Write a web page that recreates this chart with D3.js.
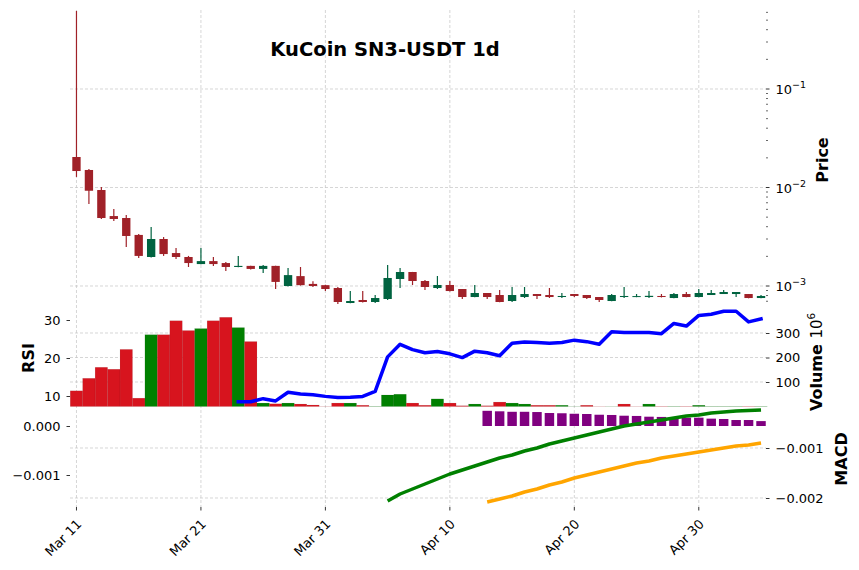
<!DOCTYPE html>
<html>
<head>
<meta charset="utf-8">
<script src="https://cdn.jsdelivr.net/npm/d3@7"></script>
<style>
body { margin: 0; background: #fff; }
text { font-family: "DejaVu Sans", sans-serif; fill: #000; }
</style>
</head>
<body>
<svg width="859" height="570"></svg>
<script>
const title = "KuCoin SN3-USDT 1d";
const firstDay = "2025-03-11";
const dateTicks = ["Mar 11", "Mar 21", "Mar 31", "Apr 10", "Apr 20", "Apr 30"];

const open = [0.0204, 0.01506, 0.00943, 0.00513, 0.0049, 0.0033, 0.00197, 0.003, 0.00216, 0.00197,
    0.00167, 0.00179, 0.00171, 0.00156, 0.0016, 0.00149, 0.0016, 0.001, 0.00126, 0.00105,
    0.00102, 0.000954, 0.000672, 0.000721, 0.000688, 0.000738, 0.001178, 0.001387, 0.001124, 0.000954,
    0.001024, 0.000932, 0.000773, 0.000849, 0.00081, 0.000704, 0.000773, 0.000829, 0.00081, 0.000773,
    0.000829, 0.00081, 0.000773, 0.000704, 0.000773, 0.000773, 0.000773, 0.000792, 0.000755, 0.000829,
    0.000773, 0.00081, 0.000829, 0.000829, 0.000829, 0.000755];
const high = [0.62, 0.0154, 0.0101, 0.00605, 0.00526, 0.00337, 0.00397, 0.00314, 0.00243, 0.00202,
    0.00243, 0.00197, 0.00175, 0.00202, 0.00161, 0.001634, 0.00161, 0.00152, 0.00156, 0.00112,
    0.00103, 0.000977, 0.000889, 0.000889, 0.00081, 0.001634, 0.001523, 0.00139, 0.001151, 0.001263,
    0.001124, 0.000935, 0.001024, 0.00085, 0.000911, 0.000977, 0.000977, 0.00083, 0.000954, 0.000849,
    0.00083, 0.00081, 0.000775, 0.000829, 0.000977, 0.000829, 0.000889, 0.000829, 0.000849, 0.000869,
    0.000932, 0.000911, 0.000911, 0.00087, 0.00083, 0.00081];
const low = [0.0128, 0.0068, 0.00479, 0.00457, 0.00249, 0.00192, 0.00195, 0.00202, 0.00188, 0.00156,
    0.00166, 0.0016, 0.00142, 0.00155, 0.00147, 0.001355, 0.000932, 0.00099, 0.00101, 0.000977,
    0.000889, 0.000656, 0.00067, 0.00068, 0.000672, 0.000721, 0.000954, 0.001024, 0.000911, 0.000932,
    0.00088, 0.000738, 0.00077, 0.000738, 0.000685, 0.000688, 0.000755, 0.000738, 0.000755, 0.000755,
    0.000773, 0.000738, 0.000688, 0.0007, 0.000755, 0.00077, 0.000755, 0.000765, 0.00075, 0.00077,
    0.00077, 0.00081, 0.000829, 0.000773, 0.00075, 0.00075];
const close = [0.0147, 0.00927, 0.0049, 0.00479, 0.00322, 0.00202, 0.003, 0.00211, 0.00197, 0.00171,
    0.00179, 0.00167, 0.00156, 0.0016, 0.00149, 0.0016, 0.0011, 0.00129, 0.00102, 0.001,
    0.000932, 0.000688, 0.000704, 0.000688, 0.000755, 0.001206, 0.001387, 0.001124, 0.000977, 0.001024,
    0.000889, 0.000773, 0.000849, 0.000773, 0.000688, 0.00081, 0.000829, 0.000792, 0.000773, 0.000792,
    0.000792, 0.000755, 0.000721, 0.00081, 0.000792, 0.00079, 0.000795, 0.000773, 0.000829, 0.000773,
    0.000849, 0.000849, 0.000869, 0.000869, 0.000755, 0.000792];

// volume in millions
const volume = [64, 115, 160, 152, 233, 34, 293, 293, 350, 310,
    318, 350, 364, 322, 265, 14, 11, 14, 10, 6,
    0.5, 14, 14, 5, 1, 47, 50, 14, 5, 31,
    14, 3, 10, 3, 18, 14, 10, 5, 5, 5,
    0.5, 5, 0.5, 0.5, 10, 0.5, 10, 1, 1, 1,
    5, 1, 1, 1, 1, 1];

const rsiStart = 13;
const rsi = [8.5, 8.5, 9.3, 8.7, 11.0, 10.5, 10.3, 9.9, 9.6, 9.7,
    9.9, 11.2, 20.3, 23.6, 22.2, 21.4, 21.7, 21.1, 20.1, 21.8,
    21.4, 20.6, 23.9, 24.2, 24.1, 23.9, 24.1, 24.7, 24.3, 23.6,
    26.9, 26.7, 26.7, 26.7, 26.4, 29.1, 28.4, 31.2, 31.5, 32.3,
    32.3, 29.5, 30.3];

const macdStart = 25;
const macd = [-0.00206, -0.00192, -0.00182, -0.00172, -0.00162, -0.00152, -0.00144, -0.00136, -0.00128, -0.0012,
    -0.00114, -0.00106, -0.001, -0.00092, -0.00086, -0.0008, -0.00074, -0.00068, -0.00062, -0.00056,
    -0.00052, -0.00048, -0.00044, -0.0004, -0.00036, -0.00034, -0.0003, -0.00028, -0.00026, -0.00025,
    -0.00024];

const signalStart = 33;
const signal = [-0.00208, -0.00202, -0.00196, -0.00188, -0.00182, -0.00174, -0.00168, -0.0016, -0.00154, -0.00148,
    -0.00142, -0.00136, -0.0013, -0.00126, -0.0012, -0.00116, -0.00112, -0.00108, -0.00104, -0.001,
    -0.00096, -0.00094, -0.0009];
const hist = [0.00031, 0.0003, 0.00029, 0.00029, 0.000285, 0.000265, 0.00026, 0.00025, 0.000245, 0.00023,
    0.000225, 0.00021, 0.000205, 0.00019, 0.000185, 0.000178, 0.00017, 0.00017, 0.00015, 0.000143,
    0.000122, 0.000122, 0.0001];

const upColor = "#006340", downColor = "#a02128";
const volUp = "#008000", volDown = "#d7141e";
const gridColor = "#c4c4c4";

const svg = d3.select("svg");
const left = 70, right = 766;
const priceTop = 10, priceBottom = 307, volBottom = 406.5, macdBottom = 507;

const t0 = d3.utcParse("%Y-%m-%d")(firstDay);
const dates = d3.utcDay.range(t0, d3.utcDay.offset(t0, close.length));
const fmt = d3.utcFormat("%b %d");
const tickIdx = dateTicks.map(s => dates.findIndex(d => fmt(d).replace(" 0", " ") === s));

const x = d3.scaleLinear().domain([-0.52, 55.4]).range([left, right]);
const step = x(1) - x(0);

const yPrice = d3.scaleLog().domain([1e-3, 1e-1]).range([286, 89]);
const yVol = d3.scaleLinear().domain([0, 300]).range([volBottom, 333]);
const yRsi = d3.scaleLinear().domain([10, 30]).range([396, 320]);
const yHist = d3.scaleLinear().domain([0, -0.001]).range([426, 475]);
const yMacd = d3.scaleLinear().domain([-0.001, -0.002]).range([448, 498]);

function hgrid(vals, scale) {
    svg.append("g").selectAll("line").data(vals).join("line")
        .attr("x1", left).attr("x2", right)
        .attr("y1", d => scale(d)).attr("y2", d => scale(d))
        .attr("stroke", gridColor).attr("stroke-width", 0.7).attr("stroke-dasharray", "3,2");
}

// grids
svg.append("g").selectAll("line").data(tickIdx).join("line")
    .attr("x1", d => x(d)).attr("x2", d => x(d))
    .attr("y1", priceTop).attr("y2", macdBottom)
    .attr("stroke", gridColor).attr("stroke-width", 0.7).attr("stroke-dasharray", "3,2");
hgrid([1e-3, 1e-2, 1e-1], yPrice);
hgrid([100, 200, 300], yVol);
hgrid([-0.001, -0.002], yMacd);

// candles
const candles = svg.append("g").selectAll("g").data(close).join("g");
candles.append("line")
    .attr("x1", (d, i) => x(i)).attr("x2", (d, i) => x(i))
    .attr("y1", (d, i) => yPrice(high[i])).attr("y2", (d, i) => yPrice(low[i]))
    .attr("stroke", (d, i) => d >= open[i] ? upColor : downColor)
    .attr("stroke-width", 1.2);
candles.append("rect")
    .attr("x", (d, i) => x(i) - step * 0.335)
    .attr("width", step * 0.67)
    .attr("y", (d, i) => yPrice(Math.max(d, open[i])))
    .attr("height", (d, i) => Math.max(1, yPrice(Math.min(d, open[i])) - yPrice(Math.max(d, open[i]))))
    .attr("fill", (d, i) => d >= open[i] ? upColor : downColor);

// volume
svg.append("g").selectAll("rect").data(volume).join("rect")
    .attr("x", (d, i) => x(i) - step / 2)
    .attr("width", step)
    .attr("y", d => yVol(d))
    .attr("height", d => yVol(0) - yVol(d))
    .attr("fill", (d, i) => (i ? close[i] >= close[i - 1] : close[i] >= open[i]) ? volUp : volDown)
    .attr("stroke", "rgba(0,0,0,0.12)").attr("stroke-width", 0.5);

// rsi
svg.append("path").datum(rsi)
    .attr("fill", "none").attr("stroke", "blue").attr("stroke-width", 3.5)
    .attr("stroke-linejoin", "round").attr("stroke-linecap", "square")
    .attr("d", d3.line().x((d, i) => x(i + rsiStart)).y(d => yRsi(d)));

// macd
svg.append("g").selectAll("rect").data(hist).join("rect")
    .attr("x", (d, i) => x(i + signalStart) - step * 0.38)
    .attr("width", step * 0.76)
    .attr("y", d => yHist(d))
    .attr("height", d => yHist(0) - yHist(d))
    .attr("fill", "purple");
svg.append("path").datum(macd)
    .attr("fill", "none").attr("stroke", "green").attr("stroke-width", 3.5)
    .attr("stroke-linejoin", "round")
    .attr("d", d3.line().x((d, i) => x(i + macdStart)).y(d => yMacd(d)));
svg.append("path").datum(signal)
    .attr("fill", "none").attr("stroke", "orange").attr("stroke-width", 3.5)
    .attr("stroke-linejoin", "round")
    .attr("d", d3.line().x((d, i) => x(i + signalStart)).y(d => yMacd(d)));

// axes
function styleAxis(g) {
    g.select(".domain").remove();
    g.selectAll(".tick line").attr("stroke", "#000").attr("stroke-width", 0.8);
    g.selectAll(".tick text").attr("font-size", 13).attr("font-family", "DejaVu Sans");
}
svg.append("g").attr("transform", `translate(${right},0)`)
    .call(d3.axisRight(yVol).tickValues([100, 200, 300]).tickSize(3.5).tickPadding(6))
    .call(styleAxis);
svg.append("g").attr("transform", `translate(${left},0)`)
    .call(d3.axisLeft(yRsi).tickValues([10, 20, 30]).tickSize(3.5).tickPadding(6))
    .call(styleAxis);
svg.append("g").attr("transform", `translate(${left},0)`)
    .call(d3.axisLeft(yHist).tickValues([0, -0.001]).tickFormat(d3.format(".3f")).tickSize(3.5).tickPadding(6))
    .call(styleAxis);
svg.append("g").attr("transform", `translate(${right},0)`)
    .call(d3.axisRight(yMacd).tickValues([-0.001, -0.002]).tickFormat(d3.format(".3f")).tickSize(3.5).tickPadding(6))
    .call(styleAxis);

// log price axis
let logTicks = [];
for (let e = -4; e <= 0; e++)
    for (let k = 1; k <= 9; k++) {
        let v = k * Math.pow(10, e);
        if (yPrice(v) >= priceTop && yPrice(v) <= priceBottom) logTicks.push({v: v, k: k, e: e});
    }
const pg = svg.append("g");
pg.selectAll("line").data(logTicks).join("line")
    .attr("x1", right).attr("x2", d => right + (d.k === 1 ? 3.5 : 2))
    .attr("y1", d => yPrice(d.v)).attr("y2", d => yPrice(d.v))
    .attr("stroke", "#000").attr("stroke-width", d => d.k === 1 ? 0.8 : 0.6);
const pl = pg.selectAll("text").data(logTicks.filter(d => d.k === 1)).join("text")
    .attr("x", right + 9.5).attr("y", d => yPrice(d.v) + 5)
    .attr("font-size", 13);
pl.append("tspan").text("10");
pl.append("tspan").attr("dy", -6).attr("font-size", 9.5).text(d => "\u2212" + (-d.e));

// date axis
const xg = svg.append("g");
xg.selectAll("line").data(tickIdx).join("line")
    .attr("x1", d => x(d)).attr("x2", d => x(d))
    .attr("y1", macdBottom).attr("y2", macdBottom + 3.5)
    .attr("stroke", "#000").attr("stroke-width", 0.8);
xg.selectAll("text").data(tickIdx).join("text")
    .attr("transform", d => `translate(${x(d) + 6},${macdBottom + 18}) rotate(-45)`)
    .attr("text-anchor", "end").attr("font-size", 13)
    .text((d, i) => dateTicks[i]);

// labels
svg.append("text").attr("x", 385).attr("y", 56).attr("text-anchor", "middle")
    .attr("font-size", 19.5).attr("font-weight", "bold").text(title);
svg.append("text").attr("transform", "translate(828,160) rotate(-90)").attr("text-anchor", "middle")
    .attr("font-size", 16).attr("font-weight", "bold").text("Price");
svg.append("text").attr("transform", "translate(34,358) rotate(-90)").attr("text-anchor", "middle")
    .attr("font-size", 16).attr("font-weight", "bold").text("RSI");
const vl = svg.append("text").attr("transform", "translate(822,411) rotate(-90)")
    .attr("font-size", 16).attr("font-weight", "bold");
vl.append("tspan").text("Volume  ");
vl.append("tspan").attr("font-weight", "normal").attr("font-size", 15).text("10");
vl.append("tspan").attr("font-weight", "normal").attr("font-size", 10.5).attr("dy", -7).text("6");
svg.append("text").attr("transform", "translate(847,459) rotate(-90)").attr("text-anchor", "middle")
    .attr("font-size", 16).attr("font-weight", "bold").text("MACD");
</script>
</body>
</html>
